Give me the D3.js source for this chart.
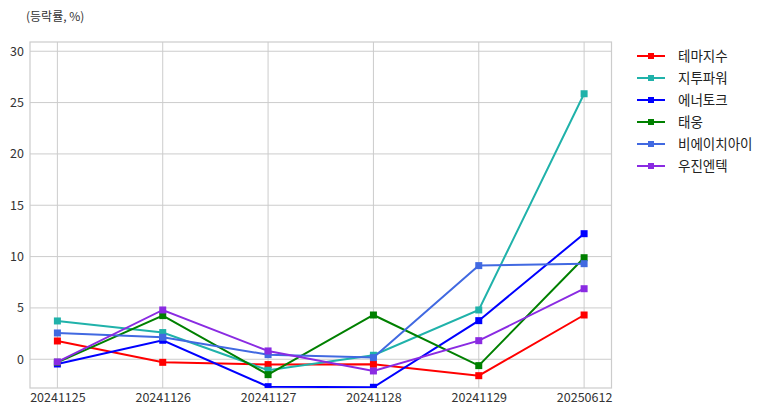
<!DOCTYPE html>
<html><head><meta charset="utf-8">
<script src="https://cdn.jsdelivr.net/npm/d3@7"></script>
<style>
body{margin:0;background:#fff;}
text{font-family:"Noto Sans CJK KR","Noto Sans",sans-serif;}
</style></head>
<body><svg id="c" width="775" height="416"></svg>
<script>
const dates = ["20241125","20241126","20241127","20241128","20241129","20250612"];
const names = ["테마지수","지투파워","에너토크","태웅","비에이치아이","우진엔텍"];
const colors = ["#ff0000","#20b2aa","#0000ff","#008000","#4169e1","#8a2be2"];
const s0 = [1.78,-0.30,-0.52,-0.49,-1.60,4.31];
const s1 = [3.73,2.60,-1.07,0.39,4.80,25.86];
const s2 = [-0.46,1.85,-2.67,-2.73,3.76,12.23];
const s3 = [-0.30,4.25,-1.50,4.31,-0.62,9.89];
const s4 = [2.56,2.14,0.45,0.16,9.12,9.31];
const s5 = [-0.26,4.80,0.81,-1.14,1.81,6.87];
const series = [s0,s1,s2,s3,s4,s5];
const yTicks = [0,5,10,15,20,25,30];

const svg = d3.select("#c");
const L=30,R=611.5,T=42,B=388;
const x = d3.scalePoint().domain(dates).range([L,R]).padding(0.26);
const y = d3.scaleLinear().domain([-2.8,30.9]).range([B,T]);

// grid
svg.append("g").selectAll("line").data(yTicks).join("line")
  .attr("x1",L).attr("x2",R).attr("y1",d=>y(d)).attr("y2",d=>y(d))
  .attr("stroke","#cccccc").attr("stroke-width",1);
svg.append("g").selectAll("line").data(dates).join("line")
  .attr("y1",T).attr("y2",B).attr("x1",d=>x(d)).attr("x2",d=>x(d))
  .attr("stroke","#cccccc").attr("stroke-width",1);
svg.append("rect").attr("x",L).attr("y",T).attr("width",R-L).attr("height",B-T)
  .attr("fill","none").attr("stroke","#cccccc").attr("stroke-width",1.2);

// axes labels
const yAxis = d3.axisLeft(y).tickValues(yTicks).tickSize(0).tickPadding(6);
const gy = svg.append("g").attr("transform",`translate(${L},0)`).call(yAxis);
gy.select(".domain").remove();
gy.selectAll("text").attr("font-size",12.5).attr("fill","#333").style("font-family","'Noto Sans CJK KR'");
const xAxis = d3.axisBottom(x).tickSize(0).tickPadding(5);
const gx = svg.append("g").attr("transform",`translate(0,${B})`).call(xAxis);
gx.select(".domain").remove();
gx.selectAll("text").attr("font-size",12.5).attr("fill","#333").style("font-family","'Noto Sans CJK KR'");

svg.append("text").attr("x",26).attr("y",21).attr("font-size",12).attr("fill","#333").text("(등락률, %)");

// clip
svg.append("clipPath").attr("id","clip").append("rect").attr("x",L).attr("y",T).attr("width",R-L).attr("height",B-T);
const line = d3.line().x((d,i)=>x(dates[i])).y(d=>y(d));
const plot = svg.append("g").attr("clip-path","url(#clip)");
series.forEach((s,k)=>{
  const g = plot.append("g");
  g.append("path").attr("d",line(s)).attr("fill","none").attr("stroke",colors[k]).attr("stroke-width",2);
  g.selectAll("rect").data(s).join("rect")
    .attr("x",(d,i)=>x(dates[i])-3.5).attr("y",d=>y(d)-3.5).attr("width",7).attr("height",7)
    .attr("fill",colors[k]);
});

// legend
const lg = svg.append("g");
names.forEach((n,k)=>{
  const yy = 56 + k*22;
  lg.append("line").attr("x1",637).attr("x2",665).attr("y1",yy).attr("y2",yy).attr("stroke",colors[k]).attr("stroke-width",2);
  lg.append("rect").attr("x",651-3).attr("y",yy-3).attr("width",6).attr("height",6).attr("fill",colors[k]);
  lg.append("text").attr("x",678).attr("y",yy).attr("dy","0.36em").attr("font-size",13.5).attr("fill","#222").text(n);
});
</script></body></html>
